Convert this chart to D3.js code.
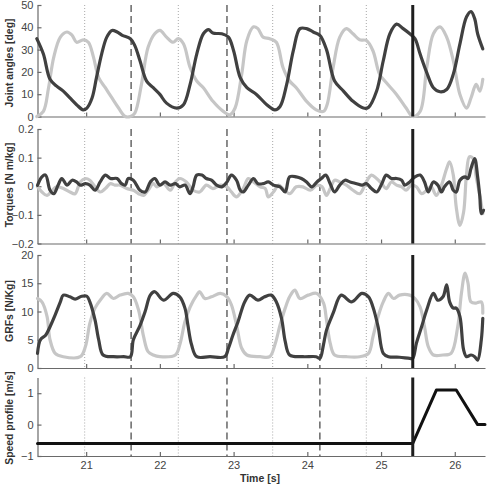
<!DOCTYPE html>
<html><head><meta charset="utf-8">
<script src="https://cdn.jsdelivr.net/npm/d3@7"></script>
<style>body{margin:0;background:#fff}svg{display:block}</style>
</head><body><svg id="c" width="489" height="485"></svg>
<script>
// ---- tick labels / events ----
const xTicks = [21, 22, 23, 24, 25, 26];
const angleTicks = [0, 10, 20, 30, 40, 50];
const torqueTicks = [-0.2, -0.1, 0, 0.1, 0.2];
const grfTicks = [0, 5, 10, 15, 20];
const speedTicks = [-1, 0, 1];
const dottedEvents = [20.98, 22.25, 23.53, 24.80];
const dashedEvents = [21.61, 22.91, 24.17];
const switchTime = 25.43;

// ---- Joint angles [deg] ----
const angleDarkT = [20.33,20.42,20.51,20.60,20.69,20.78,20.87,20.96,21.01,21.08,21.14,21.21,21.28,21.35,21.42,21.49,21.60,21.66,21.73,21.82,21.91,22.00,22.09,22.23,22.32,22.41,22.50,22.59,22.66,22.72,22.84,22.93,23.00,23.09,23.18,23.31,23.45,23.56,23.63,23.72,23.81,23.90,23.99,24.08,24.17,24.26,24.37,24.49,24.62,24.76,24.83,24.94,25.03,25.12,25.21,25.30,25.39,25.46,25.53,25.62,25.71,25.80,25.89,25.98,26.07,26.16,26.22,26.27,26.31,26.38];
const angleDarkV = [34.9,28,16.7,13.6,11.4,8.3,5.3,3.0,3.8,8.3,17.4,28,35.6,38.6,37.9,36.4,34.9,31.8,25,15.9,12.9,9.9,6,3.8,5.3,14.4,28,37.1,39,37.4,37.1,35.6,29.5,17.4,12.9,9.9,5.3,3.0,4.5,14.4,29.5,39.4,39.4,37.9,36.4,30,15.9,11.4,6.8,3.8,4.1,11.4,25,37.1,41.4,39.4,37.1,34.9,28,19.7,12.9,11.1,12.1,19,32.6,44.7,47,43.9,37.1,30.3];
const angleLightT = [20.33,20.42,20.49,20.56,20.65,20.74,20.81,20.87,20.96,21.03,21.10,21.17,21.26,21.35,21.44,21.53,21.60,21.66,21.75,21.84,21.93,22.00,22.09,22.18,22.25,22.32,22.41,22.50,22.59,22.72,22.86,22.95,23.02,23.11,23.18,23.27,23.33,23.40,23.49,23.58,23.67,23.76,23.85,23.99,24.12,24.22,24.27,24.35,24.44,24.53,24.62,24.71,24.80,24.89,24.98,25.07,25.21,25.34,25.43,25.53,25.62,25.71,25.80,25.89,25.98,26.07,26.16,26.22,26.29,26.34,26.38];
const angleLightV = [0,2.3,12.9,26.5,35.6,37.9,36.4,33.3,34.4,33.3,26.5,17.4,12.9,8.3,3.8,0,0,1.5,14.4,31,37.1,38.6,35.6,33.3,34.9,32.6,22,15.9,12.9,6.8,2.3,0.8,3.8,19,34.1,40.2,39.4,35.6,34.9,33.3,22,15.9,12.9,6.8,3,2.3,5.5,22,35.6,39.4,37.1,34.4,34.1,29.5,19,15.2,9.9,3.8,0,2.3,22,37.1,40.2,35.6,25,9.9,3.8,8.3,14.4,11.4,16.7];

// ---- Torques [N m/kg] ----
const torqueDarkT = [20.34,20.40,20.45,20.51,20.56,20.62,20.67,20.74,20.81,20.87,20.92,20.99,21.05,21.12,21.19,21.26,21.33,21.42,21.48,21.53,21.57,21.64,21.73,21.80,21.87,21.93,22.00,22.07,22.14,22.21,22.27,22.34,22.41,22.45,22.50,22.57,22.63,22.70,22.77,22.84,22.91,22.97,23.04,23.09,23.13,23.20,23.27,23.33,23.40,23.47,23.54,23.63,23.70,23.76,23.85,23.92,23.99,24.06,24.13,24.19,24.25,24.31,24.37,24.44,24.51,24.58,24.67,24.74,24.80,24.87,24.94,25.01,25.07,25.14,25.21,25.28,25.32,25.39,25.46,25.53,25.59,25.64,25.71,25.77,25.82,25.86,25.93,25.98,26.02,26.07,26.14,26.18,26.22,26.27,26.31,26.34,26.36,26.39];
const torqueDarkV = [0.003,0.033,0.039,-0.014,-0.026,0.004,0.027,0.004,0.021,0.015,0.004,0.009,0.004,-0.014,0.015,0.039,0.027,0.027,0.009,0.004,0.027,0.021,-0.014,-0.02,0.015,0.027,0.004,0.015,0.004,0.009,-0.002,0.004,-0.026,-0.002,0.039,0.039,0.027,0.021,0.004,-0.002,0.015,0.039,0.021,-0.014,-0.02,0.004,0.027,0.009,0.009,0.015,0.004,-0.002,-0.02,0.033,0.033,0.027,0.015,-0.002,0.015,0.027,0.039,0.009,-0.02,0.004,0.021,0.015,0.009,0.004,0.009,-0.008,-0.02,0.009,0.039,0.027,0.027,0.021,0.004,0.015,0.033,0.039,0.015,-0.02,0.015,0.004,-0.02,-0.002,0.015,-0.014,-0.02,0.021,0.033,0.027,0.062,0.097,0.033,-0.037,-0.096,-0.084];
const torqueLightT = [20.34,20.40,20.47,20.54,20.60,20.69,20.78,20.85,20.92,20.99,21.05,21.12,21.19,21.26,21.33,21.39,21.46,21.55,21.64,21.71,21.78,21.84,21.91,21.96,22.05,22.14,22.21,22.27,22.36,22.45,22.54,22.63,22.72,22.82,22.91,22.97,23.04,23.13,23.20,23.27,23.36,23.43,23.47,23.54,23.61,23.67,23.76,23.85,23.94,24.04,24.13,24.20,24.26,24.31,24.37,24.44,24.53,24.62,24.71,24.80,24.87,24.94,25.01,25.07,25.14,25.21,25.28,25.34,25.41,25.48,25.55,25.62,25.68,25.75,25.82,25.89,25.93,25.98,26.02,26.07,26.12,26.16,26.20,26.25,26.29,26.34,26.38];
const torqueLightV = [-0.002,-0.02,-0.032,-0.014,-0.002,-0.008,-0.02,-0.026,0.015,0.027,0.021,-0.002,-0.02,-0.008,0.009,0.004,0.004,-0.008,-0.014,-0.026,-0.032,-0.014,0.009,-0.002,0.009,-0.014,0.015,0.027,0.015,-0.014,-0.02,0.004,-0.008,0.004,-0.002,-0.02,-0.037,-0.008,0.027,0.015,-0.002,-0.008,-0.037,-0.02,0.004,-0.008,-0.026,-0.002,-0.002,-0.014,0.004,-0.002,-0.032,-0.008,0.021,0.015,0.004,-0.014,-0.026,0.015,0.039,0.027,0.009,-0.008,0.015,0.004,-0.002,-0.014,0.004,-0.002,-0.026,-0.014,-0.002,-0.032,0.004,0.062,0.085,0.039,-0.073,-0.137,-0.09,0.045,0.103,0.097,0.033,-0.032,-0.096];

// ---- GRFs [N/Kg] ----
const grfDarkT = [20.34,20.38,20.45,20.51,20.58,20.65,20.69,20.78,20.85,20.94,21.01,21.05,21.12,21.17,21.23,21.37,21.51,21.60,21.64,21.73,21.80,21.87,21.93,22.05,22.18,22.27,22.34,22.38,22.43,22.50,22.68,22.88,22.93,22.99,23.06,23.15,23.22,23.33,23.42,23.51,23.58,23.65,23.70,23.76,23.94,24.12,24.17,24.22,24.26,24.35,24.46,24.60,24.74,24.83,24.89,24.96,25.03,25.10,25.25,25.39,25.43,25.48,25.55,25.62,25.71,25.77,25.84,25.89,25.93,25.98,26.02,26.07,26.12,26.16,26.22,26.27,26.31,26.36,26.38];
const grfDarkV = [2.6,5,5.8,7.3,9.4,11.7,12.9,12.6,12.2,12.7,12.7,11.7,8.5,5,2.3,2.0,2.0,2.0,5,7.5,10,12.9,13.5,12,13.2,12.6,10.6,7.6,4.1,2,2,2,3.5,5.8,8.2,11.7,12.9,12,12.6,12.9,11.7,8.8,4.7,2.3,2,2,1.7,4.2,6.7,9.7,12.9,11.7,13.2,12.6,10.8,7.3,2.6,2,1.9,1.7,1.7,4.4,7.3,10.3,13.2,12,12.6,14.7,11.7,10.6,10.6,9.1,3.2,2,2.3,2,1.4,5,8.8];
const grfLightT = [20.34,20.40,20.47,20.51,20.58,20.69,20.92,20.99,21.05,21.12,21.19,21.28,21.37,21.46,21.57,21.64,21.71,21.78,21.84,21.91,22.00,22.21,22.27,22.34,22.41,22.50,22.54,22.61,22.70,22.82,22.91,22.97,23.04,23.11,23.18,23.36,23.49,23.56,23.63,23.70,23.76,23.83,23.90,24.01,24.13,24.22,24.26,24.31,24.37,24.53,24.71,24.83,24.89,24.96,25.03,25.10,25.17,25.25,25.39,25.46,25.53,25.59,25.64,25.71,25.84,25.95,26.04,26.09,26.14,26.18,26.22,26.29,26.36,26.38];
const grfLightV = [12.3,11.7,9.1,5,2.6,2,2,3.8,7.9,10.6,12,13.2,12.3,12.9,13.2,12.6,10.3,5.5,2.9,2.3,2,2.3,4.1,8.2,10.8,12.9,13.5,12.3,12.6,13.2,12.6,11.2,7.6,3.5,2.3,2,2,4.1,7.6,10.6,12.6,13.8,12.3,12.9,13.2,11.5,8.5,4.4,2.3,2,2,2.6,5.5,9.1,11.7,13.2,12.3,12.9,12.9,12.3,10.8,7.3,3.8,2.3,2.3,2.6,7.3,13.2,16.8,15,11.7,11.5,11.7,9.7];

// ---- Speed profile [m/s] ----
const speedT = [20.34, 25.43, 25.75, 26.02, 26.31, 26.41];
const speedV = [-0.6, -0.6, 1.1, 1.1, 0, 0];

// ---- drawing ----
const svg = d3.select('#c');
const FONT = '"Liberation Sans", Arial, Helvetica, sans-serif';
const AXC = '#6a6a6a', TXC = '#444';
const DARK = '#404040', LIGHT = '#c6c6c6';
const x = d3.scaleLinear().domain([20.34, 26.41]).range([37.5, 485]);

const zip = (t, v) => t.map((d, i) => [d, v[i]]);
const panels = [
  {label: 'Joint angles [deg]', ly: 63, domain: [0, 50], range: [116.5, 5], ticks: angleTicks, fmt: d3.format('d'),
   series: [{d: zip(angleLightT, angleLightV), c: LIGHT}, {d: zip(angleDarkT, angleDarkV), c: DARK}]},
  {label: 'Torques [N m/kg]', ly: 185, domain: [-0.2, 0.2], range: [243.5, 129], ticks: torqueTicks, fmt: d => d === 0 ? '0' : d3.format('.1f')(d),
   series: [{d: zip(torqueLightT, torqueLightV), c: LIGHT}, {d: zip(torqueDarkT, torqueDarkV), c: DARK}]},
  {label: 'GRFs [N/Kg]', ly: 311, domain: [0, 20], range: [368, 255], ticks: grfTicks, fmt: d3.format('d'),
   series: [{d: zip(grfLightT, grfLightV), c: LIGHT}, {d: zip(grfDarkT, grfDarkV), c: DARK}]},
  {label: 'Speed profile [m/s]', ly: 418, domain: [-1, 1.5], range: [456, 377.5], ticks: speedTicks, fmt: d3.format('d'), xlabels: true,
   series: [{d: zip(speedT, speedV), c: '#111', lin: true}]}
];

panels.forEach(p => {
  const y = d3.scaleLinear().domain(p.domain).range(p.range);
  const g = svg.append('g');
  const [yb, yt] = [p.range[0], p.range[1]];
  // event lines
  dottedEvents.forEach(t => g.append('line').attr('x1', x(t)).attr('x2', x(t)).attr('y1', yt).attr('y2', yb)
    .attr('stroke', '#a8a8a8').attr('stroke-width', 1).attr('stroke-dasharray', '1,2'));
  dashedEvents.forEach(t => g.append('line').attr('x1', x(t)).attr('x2', x(t)).attr('y1', yt).attr('y2', yb)
    .attr('stroke', '#707070').attr('stroke-width', 1.6).attr('stroke-dasharray', '7,4'));
  // axes
  const ya = g.append('g').attr('transform', `translate(${x.range()[0]},0)`)
    .call(d3.axisLeft(y).tickValues(p.ticks).tickFormat(p.fmt).tickSizeInner(-4).tickSizeOuter(0).tickPadding(4));
  const xa = g.append('g').attr('transform', `translate(0,${yb})`)
    .call(d3.axisBottom(x).tickValues(xTicks).tickFormat(p.xlabels ? d3.format('d') : '').tickSizeInner(-4).tickSizeOuter(0).tickPadding(5));
  [ya, xa].forEach(a => {
    a.selectAll('path,line').attr('stroke', AXC).attr('stroke-width', 1.2);
    a.selectAll('text').attr('fill', TXC).style('font-family', FONT).style('font-size', '11px');
  });
  // series
  p.series.forEach(s => {
    const line = d3.line().x(d => x(d[0])).y(d => y(d[1])).curve(s.lin ? d3.curveLinear : d3.curveCatmullRom.alpha(0.5));
    g.append('path').datum(s.d).attr('d', line).attr('fill', 'none').attr('stroke', s.c)
      .attr('stroke-width', s.lin ? 3 : 3.2).attr('stroke-linejoin', 'round').attr('stroke-linecap', 'round');
  });
  // switch line
  g.append('line').attr('x1', x(switchTime)).attr('x2', x(switchTime)).attr('y1', yt).attr('y2', yb)
    .attr('stroke', '#1e1e1e').attr('stroke-width', 3);
  // y label
  svg.append('text').attr('transform', `translate(9,${p.ly}) rotate(-90)`).attr('text-anchor', 'middle')
    .attr('dominant-baseline', 'central').style('font-family', FONT).style('font-size', '10.4px')
    .style('font-weight', 'bold').attr('fill', '#333').text(p.label);
});

svg.append('text').attr('x', 260).attr('y', 478).attr('text-anchor', 'middle').attr('dominant-baseline', 'central')
  .style('font-family', FONT).style('font-size', '10.5px').style('font-weight', 'bold').attr('fill', '#333').text('Time [s]');
</script>
</body></html>
